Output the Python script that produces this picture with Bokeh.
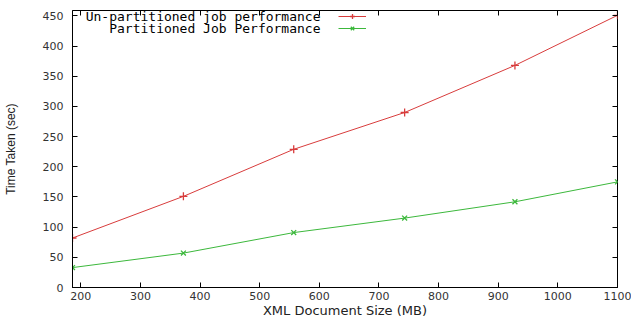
from bokeh.plotting import figure
from bokeh.models import Range1d, LinearAxis, Legend, LegendItem, Label, FixedTicker
from bokeh.embed import file_html
from bokeh.resources import INLINE

# data
doc_size_mb = [186, 372, 557, 743, 928, 1100]
unpartitioned_sec = [82, 151, 229, 290, 368, 451]
partitioned_sec = [33, 57, 91, 115, 142, 175]
series_labels = ["Un-partitioned job performance", "Partitioned Job Performance"]
x_ticks = [200, 300, 400, 500, 600, 700, 800, 900, 1000, 1100]
y_ticks = [0, 50, 100, 150, 200, 250, 300, 350, 400, 450]

RED = "#d83c3c"
GREEN = "#3cb83c"

p = figure(width=631, height=320, output_backend="svg", toolbar_location=None,
           x_range=Range1d(186, 1100), y_range=Range1d(0, 459),
           min_border_left=72, min_border_right=14, min_border_top=10, min_border_bottom=31)
p.grid.visible = False
p.outline_line_color = "black"
p.outline_line_width = 1
p.background_fill_color = "white"
p.border_fill_color = "white"

for ax in (p.xaxis[0], p.yaxis[0]):
    ax.major_tick_in = 5
    ax.major_tick_out = 0
    ax.minor_tick_line_color = None
    ax.axis_line_color = "black"
    ax.major_tick_line_color = "black"
    ax.major_label_text_font = "DejaVu Sans"
    ax.major_label_text_font_size = "11px"
    ax.major_label_text_color = "#333333"
    ax.axis_label_text_font_style = "normal"

p.xaxis[0].ticker = FixedTicker(ticks=x_ticks)
p.yaxis[0].ticker = FixedTicker(ticks=y_ticks)
p.xaxis[0].major_label_standoff = 4
p.yaxis[0].major_label_standoff = 9
p.xaxis[0].axis_label = "XML Document Size (MB)"
p.xaxis[0].axis_label_text_font = "DejaVu Sans"
p.xaxis[0].axis_label_text_font_size = "13px"
p.xaxis[0].axis_label_text_color = "#222222"
p.xaxis[0].axis_label_standoff = 0
p.yaxis[0].axis_label = "Time Taken (sec)"
p.yaxis[0].axis_label_text_font = "Liberation Sans"
p.yaxis[0].axis_label_text_font_size = "12px"
p.yaxis[0].axis_label_text_color = "#222222"
p.yaxis[0].axis_label_standoff = 22

# mirrored ticks
top = LinearAxis(ticker=FixedTicker(ticks=x_ticks), major_tick_in=5, major_tick_out=0,
                 minor_tick_line_color=None, major_label_text_font_size="0px",
                 axis_line_color=None)
right = LinearAxis(ticker=FixedTicker(ticks=y_ticks), major_tick_in=5, major_tick_out=0,
                   minor_tick_line_color=None, major_label_text_font_size="0px",
                   axis_line_color=None)
p.add_layout(top, "above")
p.add_layout(right, "right")

l1 = p.line(doc_size_mb, unpartitioned_sec, line_color=RED, line_width=1)
m1 = p.scatter(doc_size_mb, unpartitioned_sec, marker="cross", size=8, line_color=RED, line_width=1.3)
l2 = p.line(doc_size_mb, partitioned_sec, line_color=GREEN, line_width=1)
m2 = p.scatter(doc_size_mb, partitioned_sec, marker="x", size=7, line_color=GREEN, line_width=1.3)

legend = Legend(items=[LegendItem(label=" ", renderers=[l1, m1]),
                       LegendItem(label=" ", renderers=[l2, m2])],
                location=(266, 253), glyph_width=28, glyph_height=12, label_height=12,
                spacing=0, padding=0, margin=0, border_line_color=None,
                background_fill_alpha=0, label_width=1, label_standoff=0)
p.add_layout(legend)

for i, txt in enumerate(series_labels):
    p.add_layout(Label(x=248, y=271 - 12 * i, x_units="screen", y_units="screen", text=txt,
                       text_align="right", text_baseline="middle",
                       text_font="DejaVu Sans Mono", text_font_size="13px", text_color="black"))

open("out.html", "w").write(file_html(p, INLINE))
